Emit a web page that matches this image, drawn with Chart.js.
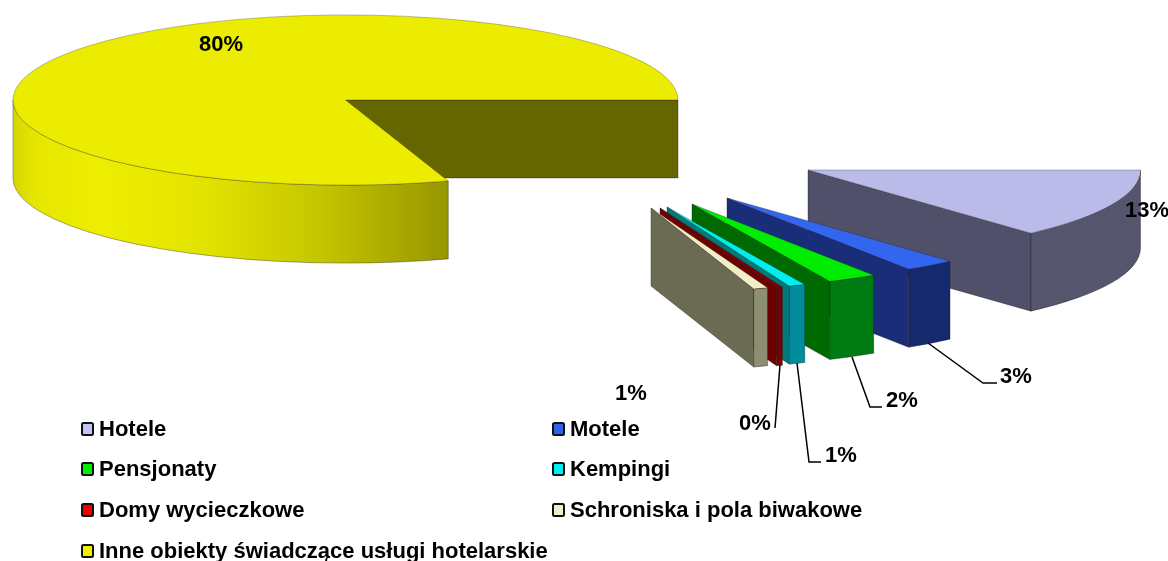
<!DOCTYPE html>
<html lang="pl">
<head>
<meta charset="utf-8">
<title>Obiekty hotelarskie</title>
<style>
html,body{margin:0;padding:0;background:#fff;overflow:hidden}
canvas{display:block}
</style>
<script src="https://cdn.jsdelivr.net/npm/chart.js@4/dist/chart.umd.min.js"></script>
</head>
<body>
<canvas id="c" width="1168" height="561"></canvas>
<script>
// ---- data ----
const categories = ['Hotele','Motele','Pensjonaty','Kempingi','Domy wycieczkowe','Schroniska i pola biwakowe','Inne obiekty świadczące usługi hotelarskie'];
const shares = [13.3, 2.5, 2.4, 0.8, 0.3, 0.7, 80];

// ---- styles ----
const legendColors = ['#c4c4f4','#2f62e8','#00ee00','#00eeee','#ee0000','#f0eecb','#eeee00'];
const topColors    = ['#bbbbea','#3366ee','#00ec00','#00eeee','#800000','#f0eec4','#ecec00'];
const wallColors   = ['#50506a','#1a2d78','#006a00','#007a7a','#6e0000','#6b6b54','#666600'];
const rimColors    = ['#55556e','#14296e','#007a12','#008c9a','#780000','#8e8e72',null];
const yellowRimStops = [[0,'#d6d600'],[0.05,'#e6e600'],[0.2,'#eeee00'],[0.45,'#e2e200'],[0.7,'#c6c600'],[1,'#969600']];
const explodeX = [462.5, 381.5, 346.5, 321.5, 314.5, 305.5, 0];
const explodeY = [70, 98, 104, 107, 108, 108, 0];
const squash = 0.256, depth = 78;
const labelAnchors = [[1147,211],[1016,377],[902,401],[841,456],[755,424],[631,394],[221,45]];
const leaders = [null,[[928,343],[983,383],[997,383]],[[852,357],[870,407],[882,407]],[[797,363],[809,462],[821,462]],[[780,365],[775,428]],null,null];
const legendRows = [[81,430],[552,430],[81,470],[552,470],[81,511],[552,511],[81,552]];
const FONT = 'bold 22px "Liberation Sans", Arial, sans-serif';

const pie3d = {
  id:'pie3d',
  beforeDatasetsDraw(chart){
    const ctx = chart.ctx, arcs = chart.getDatasetMeta(0).data;
    arcs.forEach((arc,i)=>{
      const R = arc.outerRadius, cx = arc.x + explodeX[i], cy = arc.y + explodeY[i];
      const a = arc.startAngle, b = arc.endAngle;
      const px = t => cx + R*Math.cos(t), py = t => cy + R*squash*Math.sin(t);
      ctx.save();
      ctx.lineWidth = 0.8; ctx.strokeStyle = 'rgba(25,25,25,0.45)'; ctx.lineJoin='round';
      // cut face along the end edge
      ctx.beginPath();
      ctx.moveTo(cx,cy); ctx.lineTo(px(b),py(b)); ctx.lineTo(px(b),py(b)+depth); ctx.lineTo(cx,cy+depth); ctx.closePath();
      ctx.fillStyle = wallColors[i]; ctx.fill(); ctx.stroke();
      // outer rim, front half only
      const lo = Math.max(a,0), hi = Math.min(b,Math.PI);
      if (hi > lo){
        ctx.beginPath();
        ctx.ellipse(cx,cy,R,R*squash,0,lo,hi,false);
        ctx.ellipse(cx,cy+depth,R,R*squash,0,hi,lo,true);
        ctx.closePath();
        if (rimColors[i]) ctx.fillStyle = rimColors[i];
        else {
          const g = ctx.createLinearGradient(px(hi),0,px(lo),0);
          yellowRimStops.forEach(s=>g.addColorStop(s[0],s[1]));
          ctx.fillStyle = g;
        }
        ctx.fill(); ctx.stroke();
      }
      // top face: the library's own arc, squashed
      ctx.save();
      ctx.translate(cx,cy); ctx.scale(1,squash); ctx.translate(-arc.x,-arc.y);
      arc.draw(ctx);
      ctx.restore();
      ctx.beginPath();
      ctx.moveTo(cx,cy);
      ctx.ellipse(cx,cy,R,R*squash,0,a,b,false);
      ctx.closePath();
      ctx.strokeStyle = 'rgba(25,25,25,0.35)';
      ctx.stroke();
      ctx.restore();
    });
    return false;
  },
  afterDraw(chart){
    const ctx = chart.ctx;
    ctx.save();
    // leader lines
    ctx.strokeStyle = '#000'; ctx.lineWidth = 1.5;
    leaders.forEach(l=>{
      if(!l) return;
      ctx.beginPath();
      l.forEach((p,k)=> k ? ctx.lineTo(p[0],p[1]) : ctx.moveTo(p[0],p[1]));
      ctx.stroke();
    });
    // value labels
    ctx.font = FONT; ctx.fillStyle = '#000'; ctx.textBaseline = 'middle'; ctx.textAlign = 'center';
    chart.data.datasets[0].data.forEach((v,i)=>{
      ctx.fillText(Math.round(v)+'%', labelAnchors[i][0], labelAnchors[i][1]);
    });
    // legend
    ctx.textAlign = 'left';
    chart.data.labels.forEach((name,i)=>{
      const [x,y] = legendRows[i];
      ctx.beginPath();
      ctx.roundRect(x+1,y-7,11,12,1.5);
      ctx.fillStyle = legendColors[i]; ctx.fill();
      ctx.lineWidth = 2; ctx.strokeStyle = '#111'; ctx.stroke();
      ctx.fillStyle = '#000';
      ctx.fillText(name, x+18, y);
    });
    ctx.restore();
  }
};

new Chart(document.getElementById('c'),{
  type:'pie',
  data:{labels:categories,datasets:[{data:shares,backgroundColor:topColors,borderWidth:0,radius:332.5}]},
  options:{
    responsive:false,animation:false,rotation:90,
    layout:{padding:{left:0,top:0,right:477,bottom:361}},
    plugins:{legend:{display:false},tooltip:{enabled:false}}
  },
  plugins:[pie3d]
});
</script>
</body>
</html>
